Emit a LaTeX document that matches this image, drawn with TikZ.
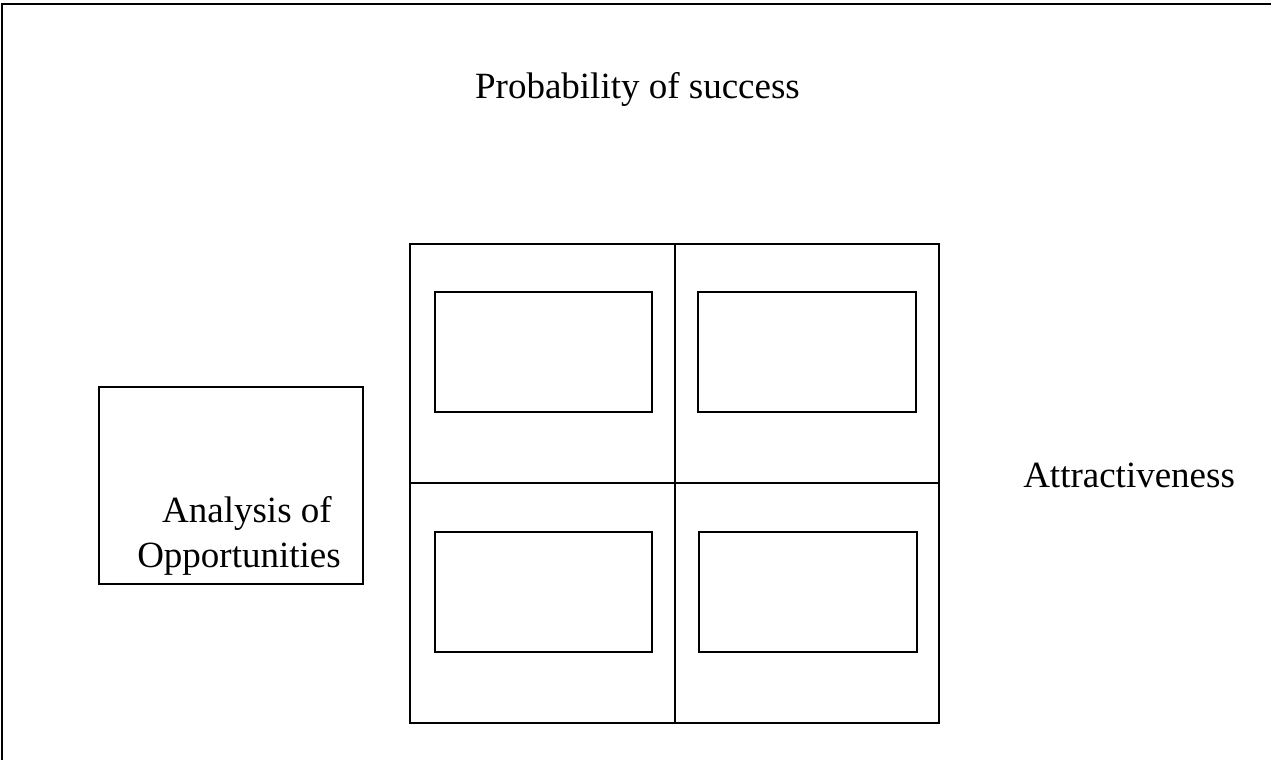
\documentclass[tikz,border=0pt]{standalone}
\usepackage{fontspec}
\setmainfont{Liberation Serif}
\usetikzlibrary{fit}
\begin{document}
\begin{tikzpicture}[x=0.75pt,y=-0.75pt,
  frame/.style={draw=black, line width=1.5pt},
  box/.style={draw=black, line width=1.5pt, inner sep=0pt},
  caption/.style={font=\fontsize{27.75}{33.75}\selectfont, inner sep=0pt}]
\useasboundingbox (0,0) rectangle (1271,760);

% page frame: only its top and left edges fall inside the picture
\coordinate (fbl) at (2,764);
\coordinate (ftl) at (2,4);
\coordinate (ftr) at (1275,4);
\draw[frame] (fbl) -- (ftl) -- (ftr);

% axis captions
\node[caption, anchor=base] (title) at (637.5,98) {Probability of success};
\node[caption, anchor=base west] (attr) at (1023,487) {Attractiveness};

% opportunity analysis box
\node[box, fit={(99,387) (363,584)}] (analysis) {};
\node[caption, anchor=base east] (anline1) at (332,522) {Analysis of};
\node[caption, anchor=base east] (anline2) at (341,567) {Opportunities};

% two-by-two matrix
\node[box, fit={(410,244) (674.5,483)}] (c11) {};
\node[box, fit={(674.5,244) (939,483)}] (c12) {};
\node[box, fit={(410,483) (674.5,723)}] (c21) {};
\node[box, fit={(674.5,483) (939,723)}] (c22) {};

% empty boxes inside the cells
\node[box, fit={(434.5,292) (651.5,411.5)}] (b11) {};
\node[box, fit={(698,292) (915.5,411.5)}] (b12) {};
\node[box, fit={(434.5,532) (651.5,652)}] (b21) {};
\node[box, fit={(698.5,532) (916.5,652)}] (b22) {};
\end{tikzpicture}
\end{document}
